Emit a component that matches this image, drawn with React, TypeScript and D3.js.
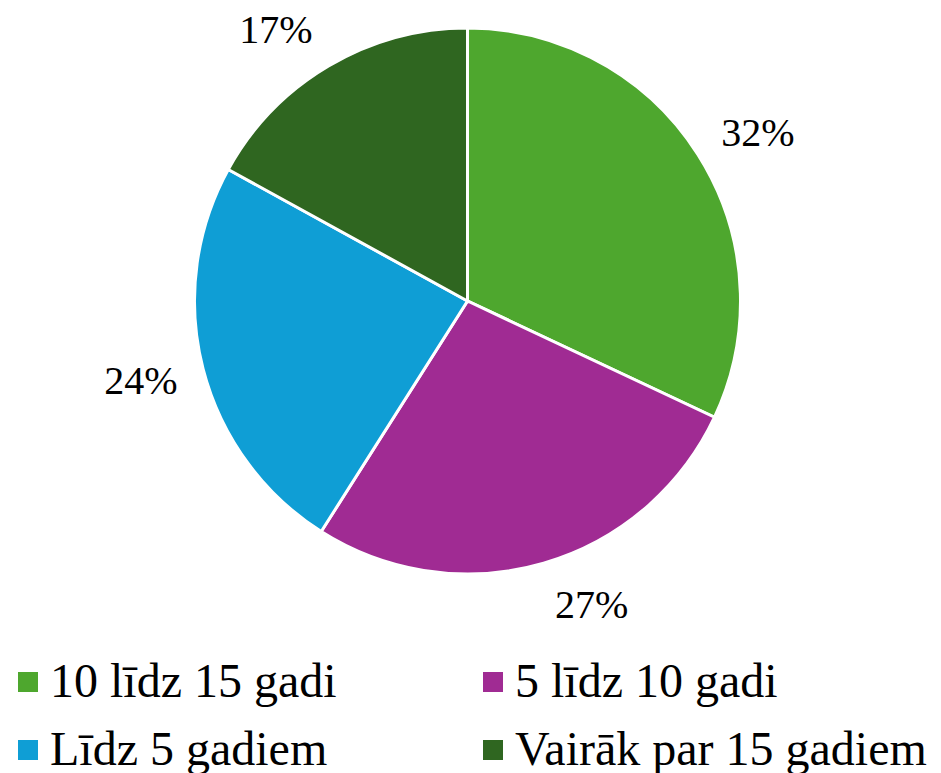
import React from "react";
import * as d3 from "d3";

const categories = ["10 līdz 15 gadi", "5 līdz 10 gadi", "Līdz 5 gadiem", "Vairāk par 15 gadiem"];
const values = [32, 27, 24, 17];
const colors = ["#4EA72E", "#A02B93", "#0F9ED5", "#2F6620"];
const labelTexts = ["32%", "27%", "24%", "17%"];

const W = 941;
const H = 773;
const cx = 467.5;
const cy = 301;
const R = 273;
const LABEL_W = 73;

export default function App() {
  const pie = d3.pie<number>().sort(null).value((d) => d)(values);
  const arc = d3.arc<d3.PieArcDatum<number>>().innerRadius(0).outerRadius(R);
  const legendPos = [
    { x: 18, y: 672 },
    { x: 483, y: 672 },
    { x: 18, y: 740 },
    { x: 483, y: 740 },
  ];
  return (
    <svg width={W} height={H} fontFamily="Liberation Serif" style={{ position: "absolute", left: 0, top: 0 }}>
      <g transform={`translate(${cx},${cy})`}>
        {pie.map((p, i) => (
          <path key={i} d={arc(p) || ""} fill={colors[i]} stroke="#fff" strokeWidth={3} />
        ))}
      </g>
      {pie.map((p, i) => {
        const a = (p.startAngle + p.endAngle) / 2;
        const dx = Math.sin(a);
        const dy = -Math.cos(a);
        const mx = cx + (R + 21) * dx + Math.sign(dx) * 42;
        const my = cy + (R + 43) * dy;
        return (
          <text
            key={i}
            x={mx - LABEL_W / 2}
            y={my + 14}
            fontSize={40}
            fontFamily="Times New Roman"
            style={{ fontFamily: `"Times New Roman", "Liberation Serif", serif` }}
          >
            <tspan style={{ fontFamily: `"Times New Roman", "Liberation Serif", serif` }}>{labelTexts[i]}</tspan>
          </text>
        );
      })}
      {categories.map((c, i) => (
        <g key={c}>
          <rect x={legendPos[i].x} y={legendPos[i].y} width={20} height={20} fill={colors[i]} />
          <text x={legendPos[i].x + 32} y={legendPos[i].y + 25} fontSize={48} style={{ fontFamily: `"Liberation Serif"` }}>
            {c}
          </text>
        </g>
      ))}
    </svg>
  );
}
